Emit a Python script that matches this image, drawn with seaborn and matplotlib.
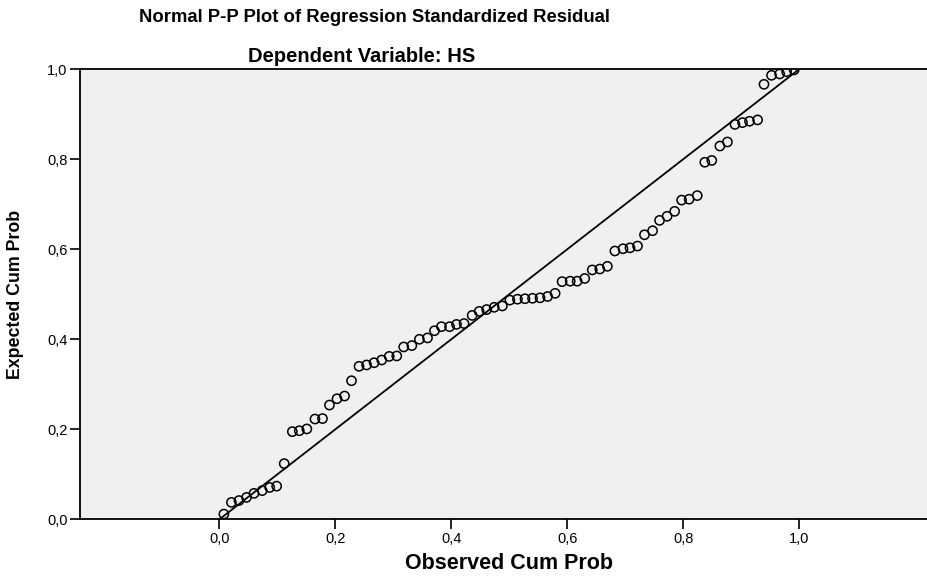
import numpy as np
import pandas as pd
import matplotlib
matplotlib.use("Agg")
import matplotlib.pyplot as plt
import seaborn as sns

# Observed cumulative probability (x) and expected cumulative probability (y)
observed = [0.008, 0.021, 0.034, 0.047, 0.060, 0.074, 0.087, 0.099, 0.112, 0.126,
            0.138, 0.151, 0.165, 0.178, 0.190, 0.203, 0.216, 0.228, 0.241, 0.254,
            0.267, 0.280, 0.293, 0.306, 0.318, 0.332, 0.345, 0.359, 0.371, 0.383,
            0.397, 0.409, 0.422, 0.436, 0.448, 0.461, 0.474, 0.488, 0.501, 0.514,
            0.527, 0.540, 0.553, 0.566, 0.579, 0.591, 0.605, 0.617, 0.630, 0.643,
            0.656, 0.669, 0.682, 0.696, 0.708, 0.721, 0.733, 0.747, 0.759, 0.772,
            0.785, 0.797, 0.810, 0.824, 0.837, 0.849, 0.863, 0.876, 0.889, 0.902,
            0.914, 0.928, 0.939, 0.952, 0.966, 0.978, 0.991]
expected = [0.012, 0.038, 0.042, 0.049, 0.058, 0.064, 0.071, 0.074, 0.124, 0.195,
            0.197, 0.201, 0.223, 0.224, 0.254, 0.268, 0.274, 0.308, 0.340, 0.343,
            0.348, 0.354, 0.362, 0.363, 0.383, 0.386, 0.400, 0.403, 0.419, 0.428,
            0.428, 0.433, 0.435, 0.453, 0.462, 0.466, 0.471, 0.474, 0.487, 0.489,
            0.490, 0.491, 0.492, 0.495, 0.502, 0.528, 0.529, 0.529, 0.535, 0.554,
            0.556, 0.562, 0.596, 0.601, 0.603, 0.607, 0.632, 0.641, 0.664, 0.673,
            0.684, 0.709, 0.711, 0.719, 0.793, 0.797, 0.829, 0.838, 0.877, 0.881,
            0.884, 0.887, 0.966, 0.986, 0.989, 0.994, 0.998]

# reference diagonal
ref_x = [0.0, 1.0]
ref_y = [0.0, 1.0]

ticks = [0.0, 0.2, 0.4, 0.6, 0.8, 1.0]
tick_labels = ["0,0", "0,2", "0,4", "0,6", "0,8", "1,0"]

df = pd.DataFrame({"observed": observed, "expected": expected})
ref = pd.DataFrame({"x": ref_x, "y": ref_y})

sns.set_style("white")
plt.rcParams['font.family'] = ['Liberation Sans', 'DejaVu Sans']
plt.rcParams['text.color'] = 'black'
plt.rcParams['axes.labelcolor'] = 'black'
plt.rcParams['xtick.color'] = 'black'
plt.rcParams['ytick.color'] = 'black'

fig = plt.figure(figsize=(9.27, 5.77), dpi=100)
ax = fig.add_axes([0.0863, 0.0997, 0.9137, 0.7807])
ax.set_facecolor("#f0f0f0")

sns.lineplot(data=ref, x="x", y="y", color="black", linewidth=1.3, ax=ax)
sns.scatterplot(data=df, x="observed", y="expected", ax=ax, s=44,
                facecolor="none", edgecolor="black", linewidth=1.1, zorder=3)

ax.set_xlim(-0.24, 1.22)
ax.set_ylim(0.0, 1.0)
ax.set_xticks(ticks)
ax.set_xticklabels(tick_labels)
ax.set_yticks(ticks)
ax.set_yticklabels(tick_labels)
ax.tick_params(axis="both", direction="out", length=7, width=1.2, color="black",
               labelsize=10.5, pad=2, bottom=True, left=True)

for side in ["left", "bottom", "top"]:
    ax.spines[side].set_visible(True)
    ax.spines[side].set_color("black")
    ax.spines[side].set_linewidth(1.3)
ax.spines["right"].set_visible(False)

ax.set_xlabel("Observed Cum Prob", fontsize=15.5, fontweight="bold")
ax.set_ylabel("Expected Cum Prob", fontsize=12.8, fontweight="bold")
ax.xaxis.set_label_coords(0.506, -0.075)
ax.yaxis.set_label_coords(-0.066, 0.5)

fig.text(374 / 927, 1 - 18 / 577, "Normal P-P Plot of Regression Standardized Residual",
         ha="center", va="center", fontsize=13.3, fontweight="bold")
fig.text(362 / 927, 1 - 56 / 577, "Dependent Variable: HS",
         ha="center", va="center", fontsize=14.5, fontweight="bold")

plt.savefig("out.png", dpi=100)
